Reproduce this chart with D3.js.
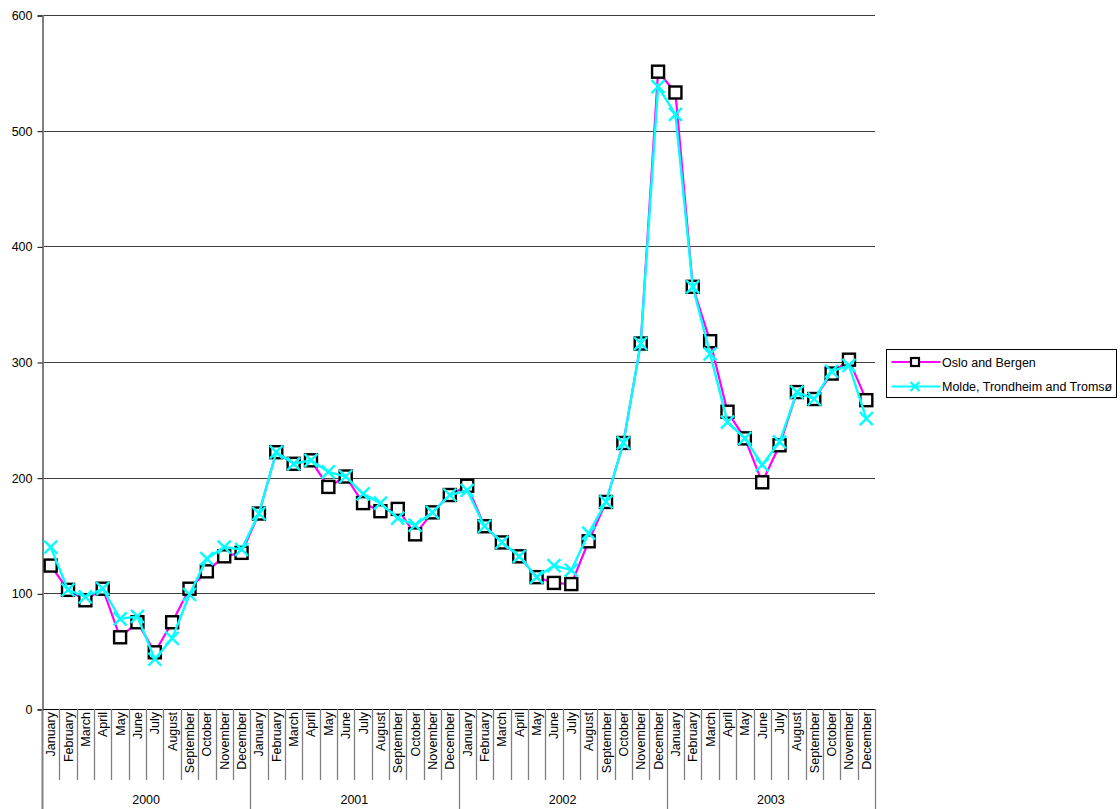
<!DOCTYPE html>
<html>
<head>
<meta charset="utf-8">
<script src="https://cdn.jsdelivr.net/npm/d3@7"></script>
<style>
  body { margin: 0; background: #fff; }
  svg { display: block; font-family: "Liberation Sans", Arial, sans-serif; }
</style>
</head>
<body>
<svg id="chart" width="1120" height="809"></svg>
<script>
// Monthly index values, January 2000 – December 2003
const years = ["2000", "2001", "2002", "2003"];
const months = ["January", "February", "March", "April", "May", "June",
                "July", "August", "September", "October", "November", "December"];
const osloBergen = [
  124, 103, 94, 104, 62, 75, 49, 75, 104, 119, 132, 135,
  169, 222, 212, 215, 192, 201, 178, 171, 173, 151, 170, 185,
  193, 158, 144, 132, 114, 109, 108, 145, 179, 230, 316, 551,
  533, 365, 318, 257, 234, 196, 228, 274, 268, 290, 302, 267
];
const moldeTrondheimTromso = [
  140, 103, 97, 104, 78, 80, 43, 61, 99, 130, 140, 138,
  169, 222, 212, 215, 205, 201, 186, 178, 165, 159, 170, 185,
  189, 158, 144, 132, 114, 124, 120, 152, 179, 230, 316, 538,
  514, 365, 307, 248, 234, 211, 231, 274, 268, 292, 297, 251
];
const yTicks = [0, 100, 200, 300, 400, 500, 600];
const seriesNames = ["Oslo and Bergen", "Molde, Trondheim and Tromsø"];

const svg = d3.select("#chart");
const plot = { left: 42, right: 875, top: 15, bottom: 709 };

// one band per month
const keys = [];
years.forEach(y => months.forEach(m => keys.push(y + "-" + m)));

const x = d3.scaleBand().domain(keys).range([plot.left, plot.right]).padding(0);
const y = d3.scaleLinear().domain([0, 600]).range([plot.bottom, plot.top]);
const cx = i => x(keys[i]) + x.bandwidth() / 2;

// horizontal gridlines
svg.append("g")
  .selectAll("line")
  .data(yTicks.filter(t => t > 0))
  .join("line")
  .attr("x1", plot.left).attr("x2", plot.right)
  .attr("y1", d => Math.round(y(d)) + 0.5).attr("y2", d => Math.round(y(d)) + 0.5)
  .attr("stroke", "#000").attr("stroke-width", 1).attr("opacity", 0.75);

// value axis
const yAxis = svg.append("g")
  .attr("transform", `translate(${plot.left + 0.5},0.5)`)
  .call(d3.axisLeft(y).tickValues(yTicks).tickSize(5).tickPadding(5));
yAxis.select(".domain").attr("stroke", "#808080").attr("stroke-width", 2);
yAxis.selectAll(".tick line").attr("stroke", "#000");
yAxis.selectAll(".tick text").attr("font-size", 12.5).attr("fill", "#000")
  .attr("font-family", "Liberation Sans, Arial, sans-serif");

// category axis: baseline
svg.append("line")
  .attr("x1", plot.left).attr("x2", plot.right)
  .attr("y1", plot.bottom + 0.5).attr("y2", plot.bottom + 0.5)
  .attr("stroke", "#000").attr("stroke-width", 1);

// left edge of the category area down to the bottom
svg.append("line")
  .attr("x1", plot.left + 0.5).attr("x2", plot.left + 0.5)
  .attr("y1", plot.bottom).attr("y2", 809)
  .attr("stroke", "#808080").attr("stroke-width", 2);

// month dividers (short) and year dividers (long)
const dividers = keys.map((k, i) => ({ i, x: x(k) + x.bandwidth() }));
svg.append("g")
  .selectAll("line")
  .data(dividers)
  .join("line")
  .attr("x1", d => Math.round(d.x) + 0.5).attr("x2", d => Math.round(d.x) + 0.5)
  .attr("y1", plot.bottom)
  .attr("y2", d => (d.i % 12 === 11) ? 809 : 780)
  .attr("stroke", "#808080").attr("stroke-width", 1.3);

// month labels, rotated
svg.append("g")
  .selectAll("text")
  .data(keys)
  .join("text")
  .attr("transform", (k, i) => `translate(${cx(i) + 4.5},${plot.bottom + 3}) rotate(-90)`)
  .attr("text-anchor", "end")
  .attr("font-size", 12.5)
  .attr("fill", "#000")
  .text((k, i) => months[i % 12]);

// year labels
svg.append("g")
  .selectAll("text")
  .data(years)
  .join("text")
  .attr("x", (yr, j) => (x(keys[j * 12]) + x(keys[j * 12 + 11]) + x.bandwidth()) / 2)
  .attr("y", 804)
  .attr("text-anchor", "middle")
  .attr("font-size", 12.5)
  .attr("fill", "#000")
  .text(d => d);

const line = d3.line().x((d, i) => cx(i)).y(d => y(d));

// series 1: magenta line with square markers
svg.append("path")
  .datum(osloBergen)
  .attr("d", line)
  .attr("fill", "none").attr("stroke", "#ff00ff").attr("stroke-width", 2.2);

const sq = 12;
svg.append("g")
  .selectAll("rect")
  .data(osloBergen)
  .join("rect")
  .attr("x", (d, i) => cx(i) - sq / 2)
  .attr("y", d => y(d) - sq / 2)
  .attr("width", sq).attr("height", sq)
  .attr("fill", "#fff").attr("stroke", "#000").attr("stroke-width", 2.4);

// series 2: cyan line with x markers
svg.append("path")
  .datum(moldeTrondheimTromso)
  .attr("d", line)
  .attr("fill", "none").attr("stroke", "#00ffff").attr("stroke-width", 2.4);

const xm = 6.5;
svg.append("g")
  .selectAll("path")
  .data(moldeTrondheimTromso)
  .join("path")
  .attr("d", (d, i) => {
    const px = cx(i), py = y(d);
    return `M${px - xm},${py - xm}L${px + xm},${py + xm}M${px - xm},${py + xm}L${px + xm},${py - xm}`;
  })
  .attr("fill", "none").attr("stroke", "#00ffff").attr("stroke-width", 2.4);

// legend
const lg = svg.append("g").attr("transform", "translate(886.5,349.5)");
lg.append("rect").attr("width", 230).attr("height", 48)
  .attr("fill", "#fff").attr("stroke", "#000").attr("stroke-width", 1);
const rows = [
  { name: seriesNames[0], color: "#ff00ff", marker: "square" },
  { name: seriesNames[1], color: "#00ffff", marker: "x" }
];
rows.forEach((r, j) => {
  const ry = 12.5 + j * 24.5;
  lg.append("line").attr("x1", 5).attr("x2", 54).attr("y1", ry).attr("y2", ry)
    .attr("stroke", r.color).attr("stroke-width", 2.2);
  if (r.marker === "square") {
    lg.append("rect").attr("x", 24.5).attr("y", ry - 4).attr("width", 8).attr("height", 8)
      .attr("fill", "#fff").attr("stroke", "#000").attr("stroke-width", 2.2);
  } else {
    lg.append("path").attr("d", `M24,${ry - 4.5}L33,${ry + 4.5}M24,${ry + 4.5}L33,${ry - 4.5}`)
      .attr("stroke", r.color).attr("stroke-width", 2.4).attr("fill", "none");
  }
  lg.append("text").attr("x", 55.5).attr("y", ry + 4.5)
    .attr("font-size", 12.5).attr("fill", "#000").text(r.name);
});
</script>
</body>
</html>
